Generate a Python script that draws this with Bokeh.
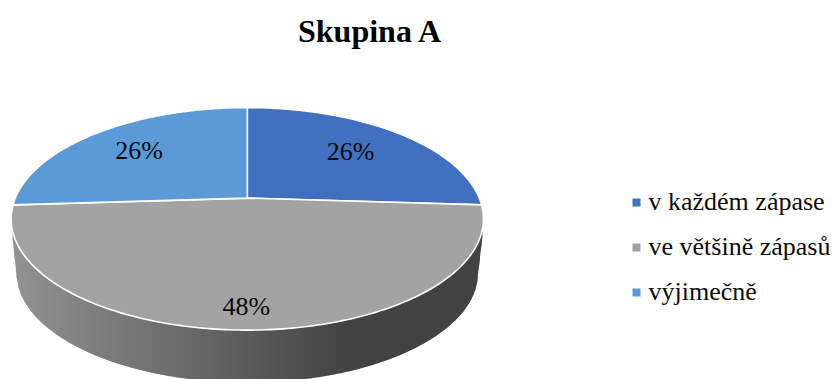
import math

from bokeh.core.properties import value
from bokeh.embed import file_html
from bokeh.plotting import figure
from bokeh.resources import INLINE

# Chart content
title_text = "Skupina A"
categories = ["v každém zápase", "ve většině zápasů", "výjimečně"]
shares = [26, 48, 26]
slice_colors = ["#4270c0", "#a3a3a3", "#5b9ad6"]

# Layout of the tilted disc, in page pixels
CX, APEX_Y = 246.8, 197.6
BX, AY, TILT = 232.0, 107.4, 0.1865
RIM_RX, RIM_CY, RIM_RY = 231.0, 272.0, 110.0
EDGE_RX, EDGE_CY, EDGE_RY, EDGE_Y = 236.0, 219.0, 111.0, 236.0
label_radius = [0.67, 0.853, 0.69]
WALL_LEFT, WALL_FLAT = 12.0, 345.0
WALL_LIGHT, WALL_DARK = 146, 67


def project(angle, r=1.0):
    """Map a polar point on the flat disc (clockwise from 12 o'clock) to the page."""
    u, v = r * math.sin(angle), r * math.cos(angle)
    d = 1 + TILT * v
    return CX + BX * u / d, APEX_Y - AY * v / d


def wall_bottom(x):
    dx = abs(x - CX)
    if dx <= RIM_RX:
        return RIM_CY + RIM_RY * math.sqrt(1 - (dx / RIM_RX) ** 2)
    return RIM_CY - min(dx - RIM_RX, 4.0) / 4.0 * (RIM_CY - EDGE_Y)


def wall_top(x):
    dx = min(abs(x - CX), EDGE_RX)
    return EDGE_CY + EDGE_RY * math.sqrt(1 - (dx / EDGE_RX) ** 2) - 6


def wall_grey(x):
    t = min(max((x - WALL_LEFT) / (WALL_FLAT - WALL_LEFT), 0.0), 1.0)
    g = round(WALL_LIGHT + (WALL_DARK - WALL_LIGHT) * t)
    return f"#{g:02x}{g:02x}{g:02x}"


p = figure(
    width=836, height=379, x_range=(0, 836), y_range=(379, 0),
    output_backend="svg", toolbar_location=None, min_border=0,
)
p.axis.visible = False
p.grid.visible = False
p.outline_line_color = None

# Side wall: strips on whole pixels stepping through the horizontal grey ramp,
# each one running under its right-hand neighbour so no seams show
wall_xs, wall_ys, wall_colors = [], [], []
wall_start, wall_end = 12, 482
for x in range(wall_start, wall_end, 2):
    x2 = min(x + 3, wall_end)
    wall_xs.append([x, x2, x2, x])
    wall_ys.append([wall_top(x), wall_top(x2), wall_bottom(x2), wall_bottom(x)])
    wall_colors.append(wall_grey(x))
p.patches(wall_xs, wall_ys, fill_color=wall_colors, line_color=None)

# Top face: one projected wedge per share, clockwise from 12 o'clock
total = sum(shares)
start = 0.0
mid_angles = []
for share, color in zip(shares, slice_colors):
    sweep = 2 * math.pi * share / total
    steps = max(int(share * 4), 8)
    pts = [project(start + sweep * i / steps) for i in range(steps + 1)]
    apex = project(0.0, 0.0)
    p.patch(
        [apex[0]] + [q[0] for q in pts] + [apex[0]],
        [apex[1]] + [q[1] for q in pts] + [apex[1]],
        fill_color=color, line_color="white", line_width=1.6, line_join="round",
    )
    mid_angles.append(start + sweep / 2)
    start += sweep

# Percentage labels on the wedges
for share, angle, r in zip(shares, mid_angles, label_radius):
    lx, ly = project(angle, r)
    p.text(
        [lx - 1], [ly - 1], text=[f"{share}%"], text_font=value("Liberation Serif"),
        text_font_size="26px", text_color="#0a0a0a",
        text_align="center", text_baseline="middle",
    )

p.text(
    [370], [30], text=[title_text], text_font=value("Liberation Serif"),
    text_font_size="32px", text_font_style="bold", text_color="#000000",
    text_align="center", text_baseline="middle",
)

# Legend, one row per category
legend_rows = [202, 247, 292]
for name, color, row in zip(categories, slice_colors, legend_rows):
    p.scatter([636], [row], marker="square", size=8, fill_color=color, line_color=None)
    p.text(
        [648], [row - 1], text=[name], text_font=value("Liberation Serif"),
        text_font_size="26px", text_color="#0a0a0a",
        text_align="left", text_baseline="middle",
    )

open("out.html", "w").write(file_html(p, INLINE))
